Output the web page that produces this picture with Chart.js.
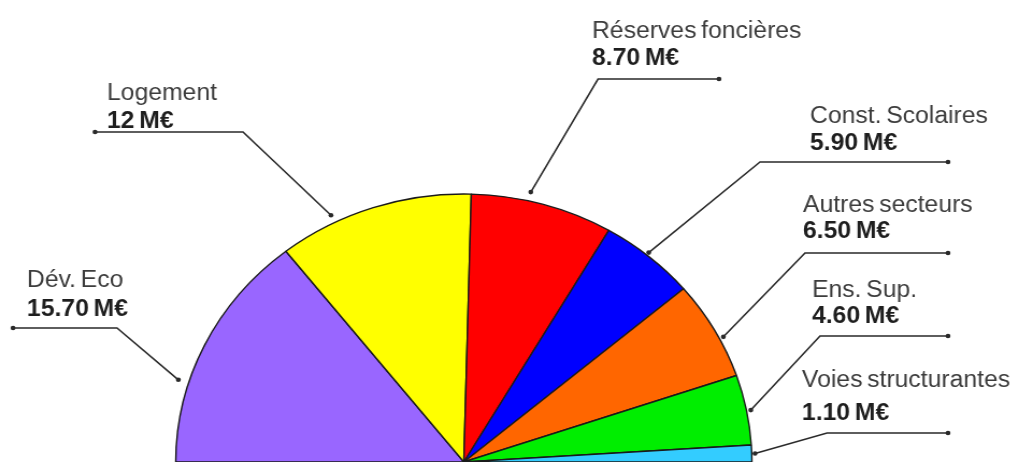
<!DOCTYPE html>
<html lang="fr">
    <head>
        <meta charset="UTF-8">
        <title>Répartition par secteur</title>
        <script src="https://cdn.jsdelivr.net/npm/chart.js@4.4.1/dist/chart.umd.min.js"></script>
        <style>
            html, body {
                margin: 0;
                padding: 0;
                background: #fff;
                overflow: hidden;
            }
            #wrap {
                width: 948px;
                height: 462px;
                transform: scaleX(1.0749);
                transform-origin: 0 0;
            }
        </style>
    </head>
    <body>
        <div id="wrap">
            <canvas id="pieSecteurs" width="948" height="462"></canvas>
        </div>
        <script>
            // donnees
            const secteurs = ["Dév. Eco", "Logement", "Réserves foncières", "Const. Scolaires", "Autres secteurs", "Ens. Sup.", "Voies structurantes"];
            const montants = [15.70, 12, 8.70, 5.90, 6.50, 4.60, 1.10];
            const montantsTexte = ["15.70 M€", "12 M€", "8.70 M€", "5.90 M€", "6.50 M€", "4.60 M€", "1.10 M€"];
            const couleurs = ["#9966ff", "#ffff00", "#ff0000", "#0000ff", "#ff6600", "#00ee00", "#33ccff"];

            // position des etiquettes (px de l'image), angle du trait depuis le haut
            const S = 1019 / 948;
            const etiquettes = [
                {tx: 27, ty1: 287, ty2: 316, ly: 328, coude: 117, bout: 13, angle: -72.8, ecart: 10},
                {tx: 107, ty1: 100, ty2: 128, ly: 132, coude: 243, bout: 95, angle: -26.6, ecart: 8},
                {tx: 592, ty1: 38, ty2: 65, ly: 79, coude: 598, bout: 719, angle: 13, ecart: 9},
                {tx: 810, ty1: 123, ty2: 150, ly: 162, coude: 760, bout: 948, angle: 39.4, ecart: 3},
                {tx: 803, ty1: 212, ty2: 238, ly: 253, coude: 805, bout: 948, angle: 62.6, ecart: 4},
                {tx: 812, ty1: 297, ty2: 323, ly: 336, coude: 820, bout: 948, angle: 79, ecart: 4},
                {tx: 802, ty1: 387, ty2: 420, ly: 433, coude: 827, bout: 948, angle: 88.2, ecart: 3}
            ];

            const pointeur = {
                id: "pointeur",
                afterDraw(chart) {
                    const ctx = chart.ctx;
                    const arcs = chart.getDatasetMeta(0).data;
                    ctx.save();
                    ctx.strokeStyle = "#2a2a2a";
                    ctx.fillStyle = "#2a2a2a";
                    ctx.lineWidth = 1.6;
                    etiquettes.forEach(function (e, i) {
                        const arc = arcs[i];
                        const a = e.angle * Math.PI / 180;
                        const r = arc.outerRadius + e.ecart;
                        const ax = arc.x + r * Math.sin(a);
                        const ay = arc.y - r * Math.cos(a);
                        const cx = e.coude / S;
                        const bx = e.bout / S;
                        ctx.beginPath();
                        ctx.moveTo(ax, ay);
                        ctx.lineTo(cx, e.ly);
                        ctx.lineTo(bx, e.ly);
                        ctx.stroke();
                        [[ax, ay], [bx, e.ly]].forEach(function (p) {
                            ctx.beginPath();
                            ctx.arc(p[0], p[1], 2.3, 0, Math.PI * 2);
                            ctx.fill();
                        });
                    });
                    ctx.textBaseline = "alphabetic";
                    ctx.textAlign = "left";
                    ctx.wordSpacing = "-2px";
                    etiquettes.forEach(function (e, i) {
                        ctx.font = "23px 'Liberation Sans', Arial, sans-serif";
                        ctx.fillStyle = "#3c3c3c";
                        ctx.fillText(secteurs[i], e.tx / S, e.ty1);
                        ctx.font = "bold 23px 'Liberation Sans', Arial, sans-serif";
                        ctx.fillStyle = "#1e1e1e";
                        ctx.fillText(montantsTexte[i], e.tx / S, e.ty2);
                    });
                    ctx.restore();
                }
            };

            const ctxPie = document.getElementById("pieSecteurs").getContext("2d");
            const pieChart = new Chart(ctxPie, {
                type: "pie",
                data: {
                    labels: secteurs,
                    datasets: [
                        {
                            data: montants,
                            backgroundColor: couleurs,
                            borderColor: "#1a1a1a",
                            borderWidth: 1.4
                        }
                    ]
                },
                options: {
                    responsive: false,
                    animation: false,
                    rotation: -90,
                    circumference: 180,
                    radius: 268,
                    layout: {
                        padding: {top: 194, bottom: 0, left: 0, right: 85}
                    },
                    plugins: {
                        legend: {display: false},
                        tooltip: {enabled: false}
                    }
                },
                plugins: [pointeur]
            });
        </script>
    </body>
</html>
